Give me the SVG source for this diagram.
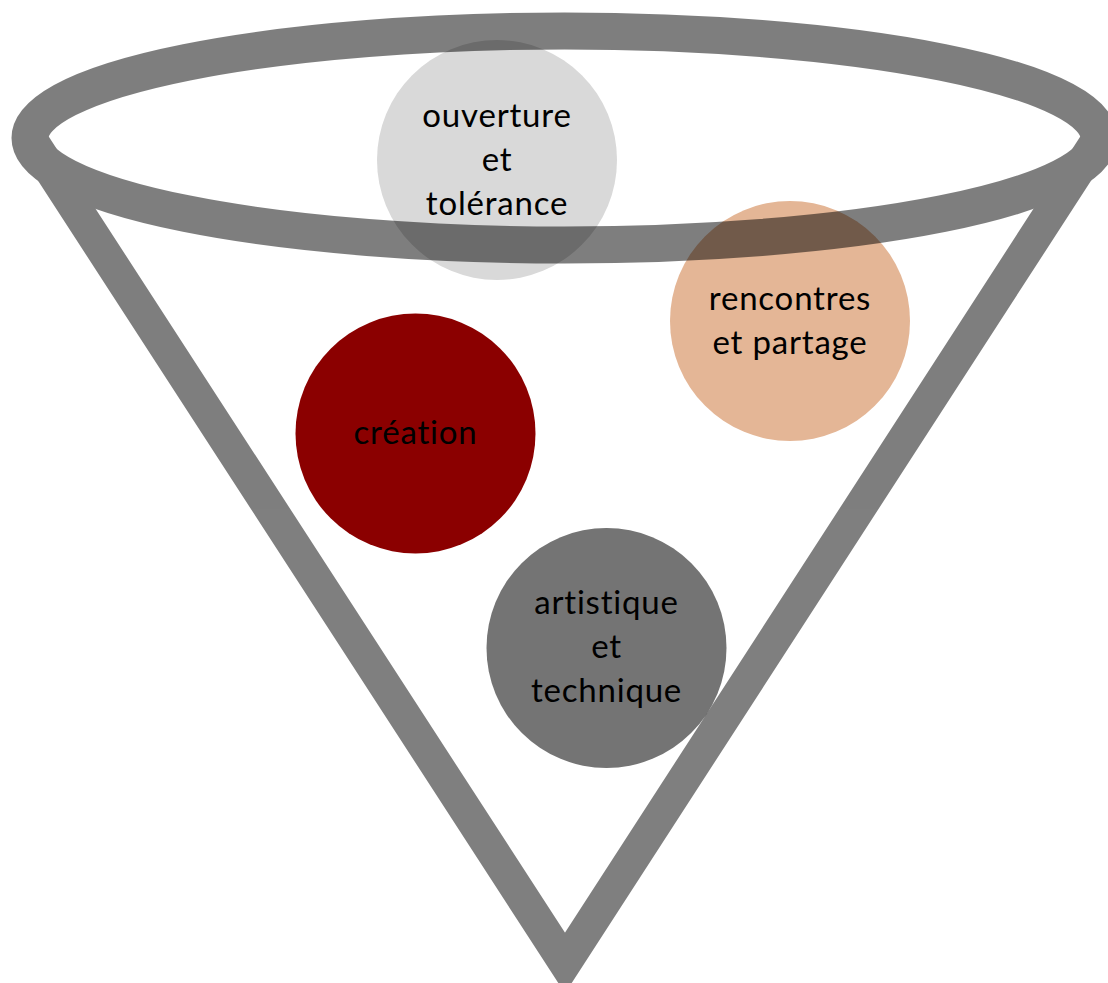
<svg xmlns="http://www.w3.org/2000/svg" width="1108" height="983" viewBox="0 0 1108 983">
<style>
.lbl{font-family:Lato,"Open Sans","Liberation Sans",sans-serif;font-size:33px;letter-spacing:0.8px;font-variant-ligatures:none;fill:#000;text-anchor:middle}
.funnel{fill:none;stroke:#000}
</style>
<rect width="1108" height="983" fill="#fff"/>
<g id="node-ouverture">
<circle cx="497" cy="160" r="120" fill="#d9d9d9"/>
</g>
<g id="node-rencontres">
<circle cx="790" cy="321" r="120" fill="#e4b696"/>
</g>
<g id="node-creation">
<circle cx="415.5" cy="433.5" r="120" fill="#8b0000"/>
<text class="lbl" x="415.5" y="444">création</text>
</g>
<g id="node-artistique">
<circle cx="606.5" cy="648" r="120" fill="#747474"/>
<text class="lbl" x="606.5" y="614">artistique</text>
<text class="lbl" x="606.5" y="658">et</text>
<text class="lbl" x="606.5" y="702">technique</text>
</g>
<g id="connectors" opacity="0.5">
<ellipse class="funnel" cx="564.5" cy="138" rx="534.5" ry="107" stroke-width="37"/>
<polyline class="funnel" points="30,138 565,963 1099,138" stroke-width="33" stroke-linejoin="miter" stroke-miterlimit="10"/>
</g>
<g id="labels-top">
<text class="lbl" x="497" y="126.5">ouverture</text>
<text class="lbl" x="497" y="170.5">et</text>
<text class="lbl" x="497" y="214.5">tolérance</text>
<text class="lbl" x="790" y="310">rencontres</text>
<text class="lbl" x="790" y="354">et partage</text>
</g>
</svg>
